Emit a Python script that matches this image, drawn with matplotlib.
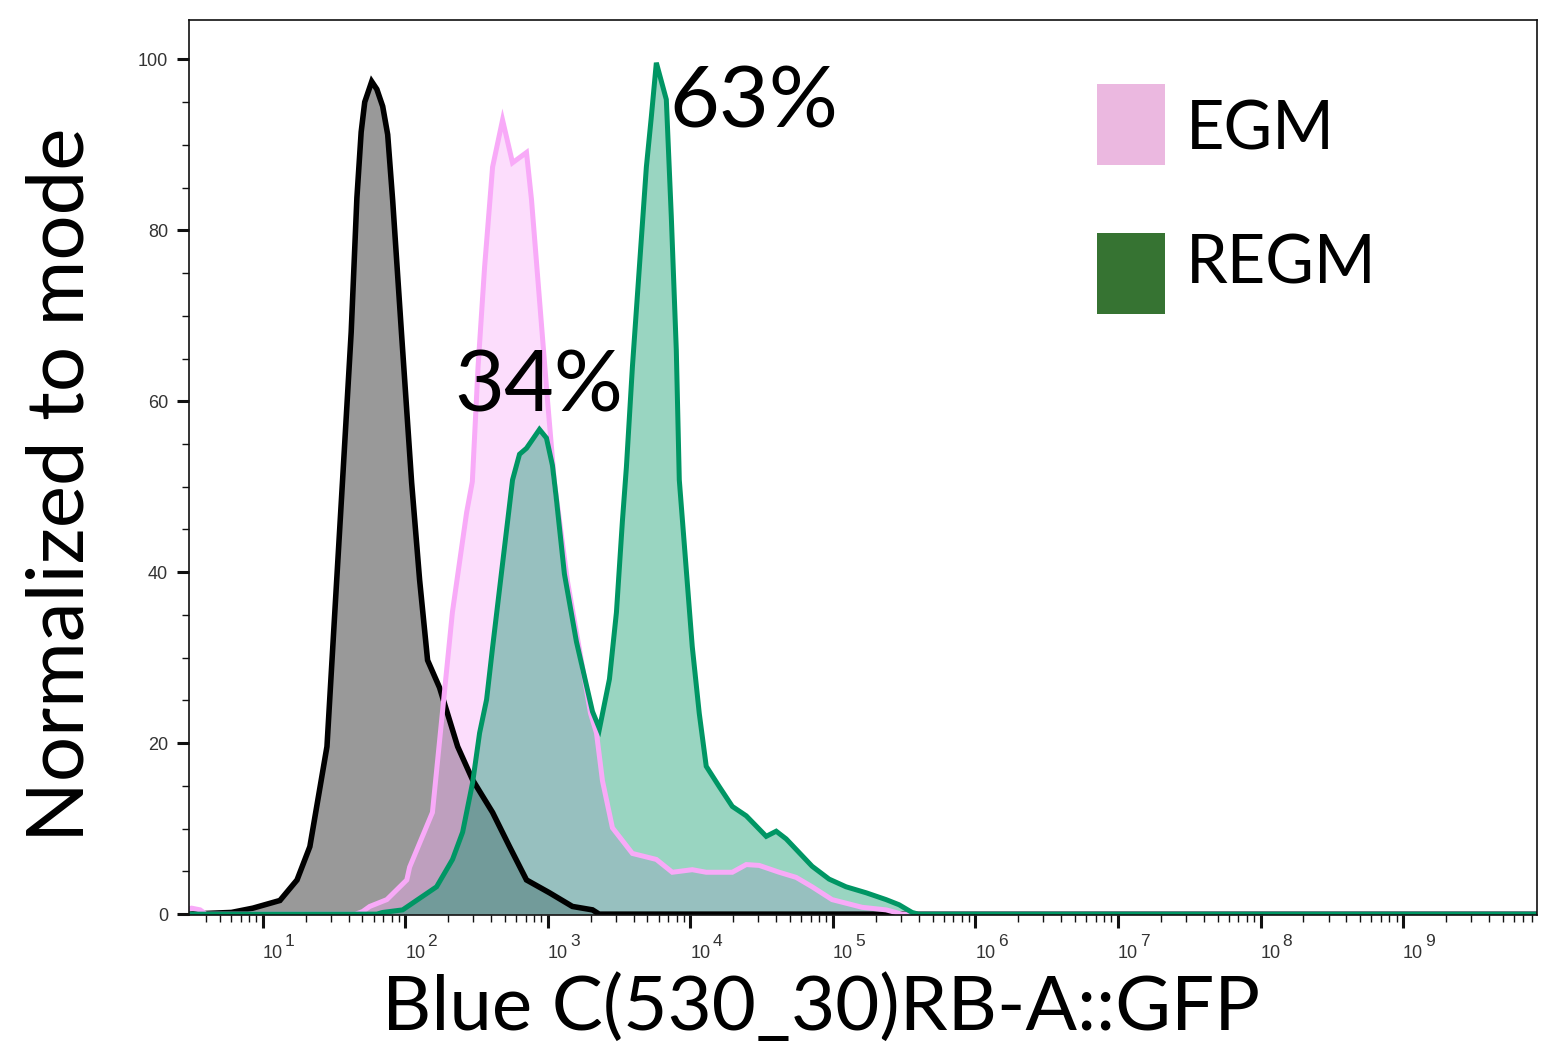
import matplotlib
matplotlib.use("Agg")
import matplotlib.pyplot as plt
import numpy as np
from matplotlib.patches import Rectangle
from matplotlib.ticker import LogLocator, NullFormatter, MultipleLocator, FixedLocator
import matplotlib.transforms as mtransforms

# ---------------- data ----------------
# x values are given as log10 of fluorescence; y is "normalized to mode" (%)
ctrl_logx = [0.48, 0.78, 0.93, 1.12, 1.24, 1.33, 1.45, 1.505, 1.56, 1.62, 1.66, 1.69,
             1.715, 1.764, 1.80, 1.841, 1.876, 1.911, 1.974, 2.044, 2.10, 2.156, 2.24,
             2.367, 2.472, 2.612, 2.731, 2.85, 3.011, 3.172, 3.313, 3.36, 9.94]
ctrl_y = [0.0, 0.2, 0.7, 1.6, 4.0, 7.9, 19.6, 35.3, 50.9, 68.1, 83.8, 91.5,
          95.0, 97.4, 96.5, 94.5, 91.2, 83.5, 67.7, 50.5, 39.1, 29.7, 26.5,
          19.6, 15.7, 11.9, 7.9, 4.0, 2.5, 0.9, 0.5, 0.0, 0.0]

egm_logx = [0.48, 0.50, 0.56, 0.60, 1.65, 1.70, 1.75, 1.87, 2.01, 2.03, 2.19, 2.26, 2.33,
            2.43, 2.47, 2.51, 2.556, 2.612, 2.682, 2.752, 2.85, 2.885, 2.941, 2.997,
            3.046, 3.137, 3.221, 3.299, 3.341, 3.383, 3.453, 3.593, 3.761, 3.873,
            4.013, 4.111, 4.294, 4.392, 4.483, 4.623, 4.742, 4.854, 4.994, 5.205,
            5.373, 5.485, 9.94]
egm_y = [0.6, 0.7, 0.5, 0.0, 0.0, 0.3, 0.9, 1.7, 4.0, 5.5, 11.9, 23.6, 35.3,
         47.0, 50.6, 64.0, 75.7, 87.4, 92.9, 87.9, 89.1, 83.6, 71.9, 60.2,
         50.5, 39.0, 31.0, 23.5, 21.2, 15.6, 10.1, 7.1, 6.4, 4.9,
         5.2, 4.9, 4.9, 5.8, 5.7, 4.9, 4.3, 3.2, 1.7, 0.8,
         0.5, 0.0, 0.0]

regm_logx = [0.48, 1.80, 1.841, 1.981, 2.219, 2.331, 2.402, 2.472, 2.521, 2.57, 2.612,
             2.682, 2.752, 2.801, 2.85, 2.941, 2.99, 3.032, 3.06, 3.116, 3.20, 3.313,
             3.362, 3.432, 3.481, 3.523, 3.551, 3.593, 3.642, 3.691, 3.726, 3.761,
             3.831, 3.866, 3.901, 3.922, 4.013, 4.062, 4.111, 4.203, 4.294, 4.392,
             4.532, 4.602, 4.672, 4.763, 4.854, 4.973, 5.092, 5.233, 5.373, 5.464,
             5.555, 5.60, 9.94]
regm_y = [0.0, 0.0, 0.2, 0.5, 3.2, 6.4, 9.6, 15.4, 21.2, 25.1, 31.2,
          41.0, 50.8, 53.8, 54.5, 56.7, 55.7, 52.5, 48.5, 39.8, 31.9, 23.7,
          21.7, 27.5, 35.3, 46.0, 52.3, 64.0, 75.7, 87.4, 93.3, 99.6,
          95.3, 81.6, 66.0, 50.8, 31.3, 23.5, 17.3, 14.9, 12.6, 11.5,
          9.1, 9.7, 8.8, 7.2, 5.6, 4.1, 3.2, 2.5, 1.7, 1.1,
          0.2, 0.0, 0.0]

decades = [1, 2, 3, 4, 5, 6, 7, 8, 9]
y_ticks = [0, 20, 40, 60, 80, 100]
legend_labels = ["EGM", "REGM"]
annot_texts = ["63%", "34%"]

# ---------------- styling ----------------
c_ctrl = "#000000"
c_egm = "#F8AAF8"
c_regm = "#009664"
leg_colors = ["#EBB8E0", "#367332"]
big_font = "Lato"

fig = plt.figure(figsize=(15.6, 10.53), dpi=100)
ax = fig.add_axes([189 / 1560, 1 - 915 / 1053, (1537 - 189) / 1560, (915 - 20) / 1053])

def draw(logx, y, color, lw):
    x = 10 ** np.asarray(logx)
    ax.fill_between(x, y, 0, color=color, alpha=0.4, lw=0)
    ax.plot(x, y, color=color, lw=lw, solid_joinstyle="miter")

draw(ctrl_logx, ctrl_y, c_ctrl, 4.0)
draw(egm_logx, egm_y, c_egm, 3.6)
draw(regm_logx, regm_y, c_regm, 3.6)

ax.set_xscale("log")
ax.set_xlim(10 ** 0.482, 10 ** 9.94)
ax.set_ylim(-0.1, 104.6)

# axes box
for s in ax.spines.values():
    s.set_linewidth(1.2)
    s.set_color("#111111")

# ticks
ax.xaxis.set_major_locator(FixedLocator([10.0 ** d for d in decades]))
ax.xaxis.set_minor_locator(LogLocator(base=10, subs=np.arange(2, 10), numticks=30))
ax.xaxis.set_major_formatter(NullFormatter())
ax.xaxis.set_minor_formatter(NullFormatter())
ax.yaxis.set_major_locator(FixedLocator(y_ticks))
ax.yaxis.set_minor_locator(MultipleLocator(5))
ax.tick_params(which="major", direction="out", length=9, width=2.2, color="#111111")
ax.tick_params(which="minor", direction="out", length=5, width=1.0, color="#111111")
ax.tick_params(axis="y", which="major", labelsize=13, labelcolor="#333333", pad=6)
for lab in ax.get_yticklabels():
    lab.set_fontfamily("Liberation Sans")

# x tick labels: "10" + raised exponent, left aligned at the tick
trans = mtransforms.blended_transform_factory(ax.transData, ax.transAxes)
for d in decades:
    ax.annotate("10", xy=(10.0 ** d, 0), xycoords=trans, xytext=(0, -31),
                textcoords="offset points", ha="left", va="baseline",
                fontsize=13, color="#333333", family="Liberation Sans",
                annotation_clip=False)
    ax.annotate(str(d), xy=(10.0 ** d, 0), xycoords=trans, xytext=(16, -22.5),
                textcoords="offset points", ha="left", va="baseline",
                fontsize=12.5, color="#333333", family="Liberation Sans",
                annotation_clip=False)

# axis labels
fig.text(821 / 1560, 1 - 1030 / 1053, "Blue C(530_30)RB-A::GFP", ha="center",
         va="baseline", fontsize=55, family=big_font, color="black")
fig.text(62 / 1560, 1 - 485 / 1053, "Normalized to mode", ha="center", va="center",
         rotation=90, fontsize=57.5, family=big_font, color="black")

# percentage annotations
ax.text(10 ** 3.852, 92.0, annot_texts[0], ha="left", va="baseline",
        fontsize=62, family=big_font, color="black")
ax.text(10 ** 2.345, 58.8, annot_texts[1], ha="left", va="baseline",
        fontsize=62, family=big_font, color="black")

# legend (manual)
sq_x0, sq_w = (1097 - 189) / 1348, (1165 - 1097) / 1348
sq_h = (165 - 84) / 895
sq_y = [(915 - 165) / 895, (915 - 314) / 895]
txt_base = [(915 - 150) / 895, (915 - 283) / 895]
for lab, col, y0, yb in zip(legend_labels, leg_colors, sq_y, txt_base):
    ax.add_patch(Rectangle((sq_x0, y0), sq_w, sq_h, transform=ax.transAxes,
                           facecolor=col, edgecolor="none", clip_on=False))
    ax.text((1186 - 189) / 1348, yb, lab, transform=ax.transAxes, ha="left",
            va="baseline", fontsize=48, family=big_font, color="black")

fig.savefig("out.png", dpi=100)
